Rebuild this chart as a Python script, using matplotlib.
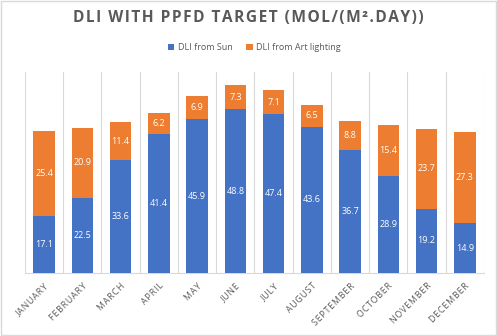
import matplotlib
matplotlib.use("Agg")
import matplotlib.pyplot as plt
from matplotlib.patches import Rectangle
import numpy as np

months = ["January", "February", "March", "April", "May", "June",
          "July", "August", "September", "October", "November", "December"]
dli_sun = [17.1, 22.5, 33.6, 41.4, 45.9, 48.8, 47.4, 43.6, 36.7, 28.9, 19.2, 14.9]
dli_art = [25.4, 20.9, 11.4, 6.2, 6.9, 7.3, 7.1, 6.5, 8.8, 15.4, 23.7, 27.3]
title = "DLI WITH PPFD TARGET (MOL/(M\u00b2.DAY))"

BLUE = "#4472C4"
ORANGE = "#ED7D31"
GRAY = "#595959"

plt.rcParams["font.family"] = ["Open Sans", "DejaVu Sans"]


def spaced(s, gap="\u200a"):
    """Widen the tracking of a string with hair spaces."""
    return gap.join(s)


fig = plt.figure(figsize=(4.97, 3.36), dpi=100)
ax = fig.add_axes([0.0503, 0.1875, 0.9235, 0.5985])

x = np.arange(len(months))
w = 0.56
ax.bar(x, dli_sun, width=w, color=BLUE, zorder=3, label="DLI from Sun")
ax.bar(x, dli_art, width=w, bottom=dli_sun, color=ORANGE, zorder=3,
       label="DLI from Art lighting")

for xi, s, a in zip(x, dli_sun, dli_art):
    ax.text(xi, s / 2, f"{s:.1f}", ha="center", va="center", color="white",
            fontsize=6.5, zorder=4)
    ax.text(xi, s + a / 2, f"{a:.1f}", ha="center", va="center", color="white",
            fontsize=6.5, zorder=4)

ax.set_xlim(-0.5, len(months) - 0.5)
ax.set_ylim(0, 60)
ax.set_yticks([])
for b in np.arange(-0.5, len(months), 1.0):
    ax.axvline(b, color="#D9D9D9", lw=0.8, zorder=1)
for side in ["top", "right", "left"]:
    ax.spines[side].set_visible(False)
ax.spines["bottom"].set_color("#D9D9D9")
ax.spines["bottom"].set_linewidth(0.8)

ax.set_xticks(x)
ax.set_xticklabels([spaced(m.upper()) for m in months], rotation=45, ha="right",
                   rotation_mode="anchor", fontsize=6.3, color=GRAY)
ax.tick_params(axis="x", length=0, pad=6)

fig.text(0.5, 0.946, spaced(title), ha="center",
         va="center", fontsize=11.2, fontweight="bold", color=GRAY)

ax.legend(loc="center", bbox_to_anchor=(0.5, 1.0 + (336 - 48 - 264) / 201.0),
          ncol=2, frameon=False, fontsize=6.5, handlelength=0.7, handleheight=0.7,
          columnspacing=1.5, handletextpad=0.4, labelcolor=GRAY,
          bbox_transform=ax.transAxes)

fig.patches.append(Rectangle((0.002, 0.003), 0.996, 0.994, transform=fig.transFigure,
                             fill=False, edgecolor="#D9D9D9", lw=1))

fig.savefig("out.png", dpi=100)
